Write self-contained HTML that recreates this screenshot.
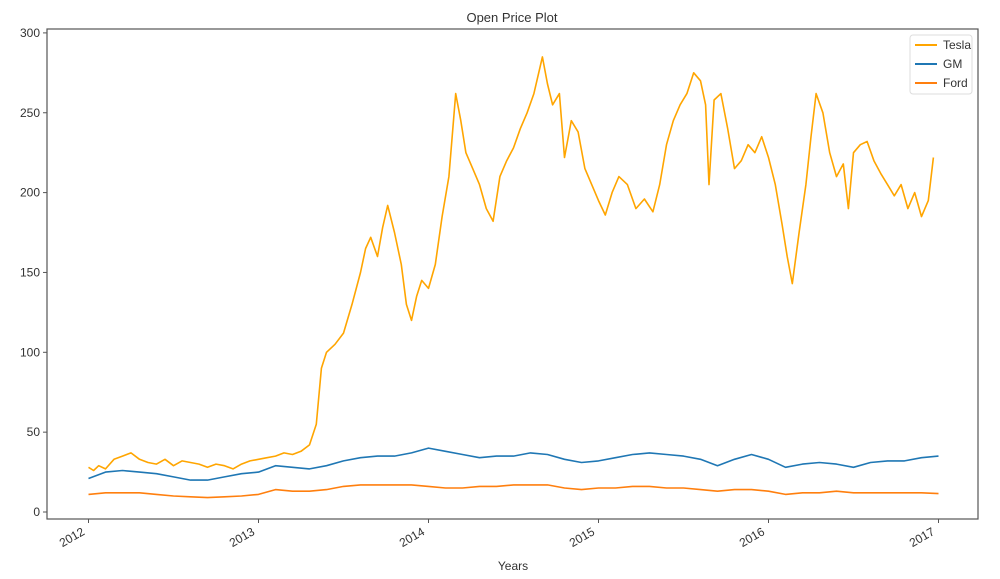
<!DOCTYPE html>
<html><head><meta charset="utf-8"><style>
body{margin:0;background:#fff;font-family:"Liberation Sans",sans-serif;}
svg text{font-family:"Liberation Sans",sans-serif;fill:#333;}
</style></head><body>
<svg id="chart" width="1000" height="574" xmlns="http://www.w3.org/2000/svg">
<rect x="0" y="0" width="1000" height="574" fill="#fff"/>
<text x="512" y="22" text-anchor="middle" font-size="13">Open Price Plot</text>
<g id="plot"></g>
<rect x="47" y="29" width="931" height="490" fill="none" stroke="#555" stroke-width="1.2"/>
<text x="513" y="570" text-anchor="middle" font-size="12">Years</text>
<g>
<rect x="910" y="35" width="62" height="59" fill="#fff" stroke="#ddd" rx="3"/>
<line x1="915" y1="45" x2="937" y2="45" stroke="#FFA500" stroke-width="2"/><text x="943" y="49" font-size="12">Tesla</text>
<line x1="915" y1="64" x2="937" y2="64" stroke="#1f77b4" stroke-width="2"/><text x="943" y="68" font-size="12">GM</text>
<line x1="915" y1="83" x2="937" y2="83" stroke="#ff7f0e" stroke-width="2"/><text x="943" y="87" font-size="12">Ford</text>
</g>
</svg>
<script>
const yTicks=[0,50,100,150,200,250,300];
const xTicks=[2012,2013,2014,2015,2016,2017];
const teslaX=[2012.0,2012.03,2012.06,2012.1,2012.15,2012.2,2012.25,2012.3,2012.35,2012.4,2012.45,2012.5,2012.55,2012.6,2012.65,2012.7,2012.75,2012.8,2012.85,2012.9,2012.95,2013.0,2013.05,2013.1,2013.15,2013.2,2013.25,2013.3,2013.34,2013.37,2013.4,2013.45,2013.5,2013.55,2013.6,2013.63,2013.66,2013.7,2013.73,2013.76,2013.8,2013.84,2013.87,2013.9,2013.93,2013.96,2014.0,2014.04,2014.08,2014.12,2014.16,2014.19,2014.22,2014.26,2014.3,2014.34,2014.38,2014.42,2014.46,2014.5,2014.54,2014.58,2014.62,2014.67,2014.7,2014.73,2014.77,2014.8,2014.84,2014.88,2014.92,2014.96,2015.0,2015.04,2015.08,2015.12,2015.17,2015.22,2015.27,2015.32,2015.36,2015.4,2015.44,2015.48,2015.52,2015.56,2015.6,2015.63,2015.65,2015.68,2015.72,2015.76,2015.8,2015.84,2015.88,2015.92,2015.96,2016.0,2016.04,2016.08,2016.11,2016.14,2016.18,2016.22,2016.25,2016.28,2016.32,2016.36,2016.4,2016.44,2016.47,2016.5,2016.54,2016.58,2016.62,2016.66,2016.7,2016.74,2016.78,2016.82,2016.86,2016.9,2016.94,2016.97,2017.0];
const teslaY=[28,26,29,27,33,35,37,33,31,30,33,29,32,31,30,28,30,29,27,30,32,33,34,35,37,36,38,42,55,90,100,105,112,130,150,165,172,160,178,192,175,155,130,120,135,145,140,155,185,210,262,245,225,215,205,190,182,210,220,228,240,250,262,285,268,255,262,222,245,238,215,205,195,186,200,210,205,190,196,188,205,230,245,255,262,275,270,255,205,258,262,240,215,220,230,225,235,222,205,180,160,143,175,205,235,262,250,225,210,218,190,225,230,232,220,212,205,198,205,190,200,185,195,222];
const gmX=[2012.0,2012.1,2012.2,2012.3,2012.4,2012.5,2012.6,2012.7,2012.8,2012.9,2013.0,2013.1,2013.2,2013.3,2013.4,2013.5,2013.6,2013.7,2013.8,2013.9,2014.0,2014.1,2014.2,2014.3,2014.4,2014.5,2014.6,2014.7,2014.8,2014.9,2015.0,2015.1,2015.2,2015.3,2015.4,2015.5,2015.6,2015.7,2015.8,2015.9,2016.0,2016.1,2016.2,2016.3,2016.4,2016.5,2016.6,2016.7,2016.8,2016.9,2017.0];
const gmY=[21,25,26,25,24,22,20,20,22,24,25,29,28,27,29,32,34,35,35,37,40,38,36,34,35,35,37,36,33,31,32,34,36,37,36,35,33,29,33,36,33,28,30,31,30,28,31,32,32,34,35];
const fordX=gmX;
const fordY=[11,12,12,12,11,10,9.5,9,9.5,10,11,14,13,13,14,16,17,17,17,17,16,15,15,16,16,17,17,17,15,14,15,15,16,16,15,15,14,13,14,14,13,11,12,12,13,12,12,12,12,12,11.5];
const X0=47,PW=931,TOP=29,BOT=519;
function xs(v){return 88.5+(v-2012)*170;}
function ys(v){return 512-v*1.597;}
const NS="http://www.w3.org/2000/svg";
const plot=document.getElementById('plot');
yTicks.forEach(t=>{
  const l=document.createElementNS(NS,'line');
  l.setAttribute('x1',43);l.setAttribute('x2',47);l.setAttribute('y1',ys(t));l.setAttribute('y2',ys(t));l.setAttribute('stroke','#555');
  
  
  plot.appendChild(l);
  const tx=document.createElementNS(NS,'text');
  tx.setAttribute('x',40);tx.setAttribute('y',ys(t)+4);tx.setAttribute('text-anchor','end');tx.setAttribute('font-size','12');
  tx.textContent=t;
  
  
  plot.appendChild(tx);
});
xTicks.forEach(t=>{
  const l=document.createElementNS(NS,'line');
  l.setAttribute('x1',xs(t));l.setAttribute('x2',xs(t));l.setAttribute('y1',519);l.setAttribute('y2',523);l.setAttribute('stroke','#555');
  
  
  plot.appendChild(l);
  const tx=document.createElementNS(NS,'text');
  const x=xs(t)-3,y=534;
  tx.setAttribute('x',x);tx.setAttribute('y',y);tx.setAttribute('text-anchor','end');tx.setAttribute('font-size','12');
  tx.setAttribute('transform','rotate(-30 '+x+' '+y+')');
  tx.textContent=t;
  
  
  plot.appendChild(tx);
});
function line(xa,ya,color,name){
  const p=document.createElementNS(NS,'polyline');
  p.setAttribute('points',xa.map((x,i)=>xs(x).toFixed(1)+','+ys(ya[i]).toFixed(1)).join(' '));
  p.setAttribute('fill','none');p.setAttribute('stroke',color);p.setAttribute('stroke-width','1.6');p.setAttribute('stroke-linejoin','round');
  
  
  plot.appendChild(p);
}
line(teslaX,teslaY,'#FFA500','tesla-line');
line(gmX,gmY,'#1f77b4','gm-line');
line(fordX,fordY,'#ff7f0e','ford-line');
</script>
</body></html>
